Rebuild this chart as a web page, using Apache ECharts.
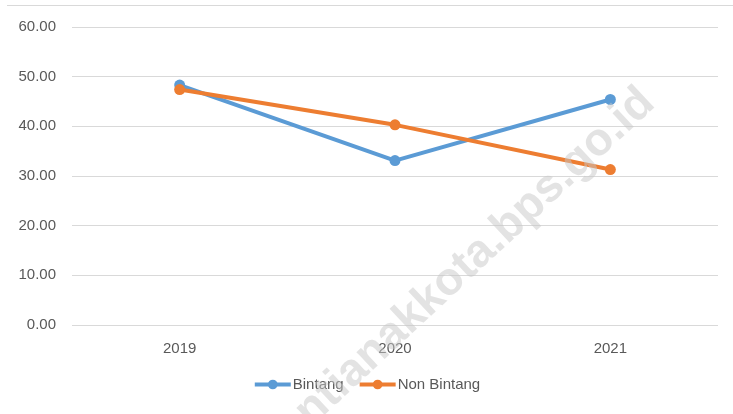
<!DOCTYPE html>
<html>
<head>
<meta charset="utf-8">
<script src="https://cdn.jsdelivr.net/npm/echarts@6/dist/echarts.min.js"></script>
<style>
html,body{margin:0;padding:0;background:#fff;}
#main{width:733px;height:414px;}
</style>
</head>
<body>
<div id="main"></div>
<script>
var categories = ['2019', '2020', '2021'];
var bintang = [48.3, 33.1, 45.4];
var nonBintang = [47.4, 40.3, 31.3];
var seriesNames = ['Bintang', 'Non Bintang'];
var watermark = 'pontianakkota.bps.go.id';

var chart = echarts.init(document.getElementById('main'));
var font = 'Liberation Sans';
chart.setOption({
  animation: false,
  backgroundColor: '#ffffff',
  grid: {left: 72, right: 15, top: 27, bottom: 89},
  legend: {
    data: seriesNames,
    bottom: 17,
    left: 'center',
    itemWidth: 36,
    itemHeight: 12,
    itemGap: 14,
    lineStyle: {width: 4},
    textStyle: {color: '#595959', fontSize: 15, fontFamily: font, padding: [0,0,0,-3]}
  },
  xAxis: {
    type: 'category',
    data: categories,
    boundaryGap: true,
    axisLine: {show: false},
    axisTick: {show: false},
    axisLabel: {color: '#595959', fontSize: 15, fontFamily: font, margin: 16}
  },
  yAxis: {
    type: 'value',
    min: 0, max: 60, interval: 10,
    axisLine: {show: false},
    axisTick: {show: false},
    splitLine: {lineStyle: {color: '#d9d9d9', width: 1}},
    axisLabel: {color: '#595959', fontSize: 15, fontFamily: font, margin: 16,
      formatter: function(v){ return v.toFixed(2); }}
  },
  graphic: [
    {type: 'line', silent: true, z: 0, shape: {x1: 7, y1: 5.5, x2: 733, y2: 5.5}, style: {stroke: '#d9d9d9', lineWidth: 1}},
    {type: 'text', silent: true, z: 100, x: 648, y: 96, rotation: 43 * Math.PI / 180,
      style: {text: watermark, fill: 'rgba(200,200,200,0.5)', font: 'bold 46px "Liberation Sans"', align: 'right', verticalAlign: 'middle'}}
  ],
  series: [
    {name: seriesNames[0], type: 'line', data: bintang, symbol: 'circle', symbolSize: 11,
      lineStyle: {width: 4, color: '#5B9BD5'}, itemStyle: {color: '#5B9BD5'}},
    {name: seriesNames[1], type: 'line', data: nonBintang, symbol: 'circle', symbolSize: 11,
      lineStyle: {width: 4, color: '#ED7D31'}, itemStyle: {color: '#ED7D31'}}
  ]
});
</script>
</body>
</html>
